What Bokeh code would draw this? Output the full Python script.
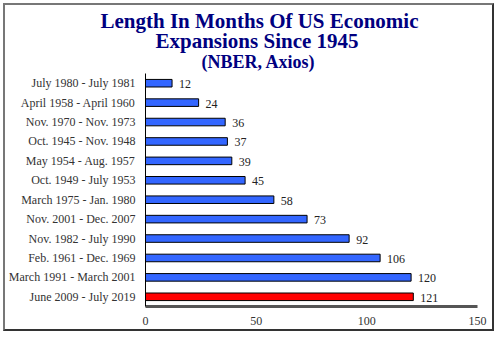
from bokeh.plotting import figure
from bokeh.models import FactorRange, Range1d, FixedTicker, ColumnDataSource, LabelSet, Title
from bokeh.embed import file_html
from bokeh.resources import INLINE

categories = [
    "July 1980 - July 1981",
    "April 1958 - April 1960",
    "Nov. 1970 - Nov. 1973",
    "Oct. 1945 - Nov. 1948",
    "May 1954 - Aug. 1957",
    "Oct. 1949 - July 1953",
    "March 1975 - Jan. 1980",
    "Nov. 2001 - Dec. 2007",
    "Nov. 1982 - July 1990",
    "Feb. 1961 - Dec. 1969",
    "March 1991 - March 2001",
    "June 2009 - July 2019",
]
months = [12, 24, 36, 37, 39, 45, 58, 73, 92, 106, 120, 121]
bar_colors = ["#3366ff"] * 11 + ["#ff0000"]
x_ticks = [0, 50, 100, 150]
title_line1 = "Length In Months Of US Economic"
title_line2 = "Expansions Since 1945"
subtitle = "(NBER, Axios)"

FONT = "Liberation Serif"

src = ColumnDataSource(dict(cat=categories, val=months, color=bar_colors,
                            lab=[str(v) for v in months]))

p = figure(width=491, height=328, output_backend="svg", toolbar_location=None,
           y_range=FactorRange(factors=list(reversed(categories))),
           x_range=Range1d(0, 150),
           min_border_left=140, min_border_right=19, min_border_top=68, min_border_bottom=27)
p.styles = {"margin-left": "3px", "margin-top": "3px",
            "border-top": "2px solid #777", "border-left": "2px solid #777",
            "border-right": "2px solid #333", "border-bottom": "2px solid #333"}
p.outline_line_color = None
p.grid.visible = False
p.background_fill_color = "white"
p.border_fill_color = "white"

p.hbar(y="cat", right="val", height=0.39, left=0, fill_color="color",
       line_color="black", line_width=1, source=src)

p.add_layout(LabelSet(x="val", y="cat", text="lab", source=src, x_offset=7, y_offset=-1,
                      text_font=FONT, text_font_size="12px", text_color="#222",
                      text_baseline="middle", text_align="left"))

xa = p.xaxis[0]
xa.ticker = FixedTicker(ticks=x_ticks)
xa.axis_line_color = "#555"
xa.axis_line_width = 3
xa.major_tick_line_color = None
xa.minor_tick_line_color = None
xa.major_tick_out = 0
xa.major_tick_in = 0
xa.minor_tick_out = 0
xa.major_label_standoff = 10
xa.major_label_text_font = FONT
xa.major_label_text_font_size = "12px"
xa.major_label_text_color = "#333"

ya = p.yaxis[0]
ya.axis_line_color = "black"
ya.axis_line_width = 1
ya.major_tick_line_color = None
ya.minor_tick_line_color = None
ya.major_tick_out = 0
ya.major_tick_in = 0
ya.minor_tick_out = 0
ya.major_label_standoff = 10
ya.major_label_text_font = FONT
ya.major_label_text_font_size = "12px"
ya.major_label_text_color = "#333"

for txt, size, standoff, off in [(subtitle, "18px", 4, 56), (title_line2, "21px", -10, 10),
                                 (title_line1, "21px", -2, -45)]:
    p.add_layout(Title(text=txt, text_font=FONT, text_font_size=size, text_font_style="bold",
                       text_color="#000080", align="left", offset=off, standoff=standoff),
                 "above")

open("out.html", "w").write(file_html(p, INLINE))
